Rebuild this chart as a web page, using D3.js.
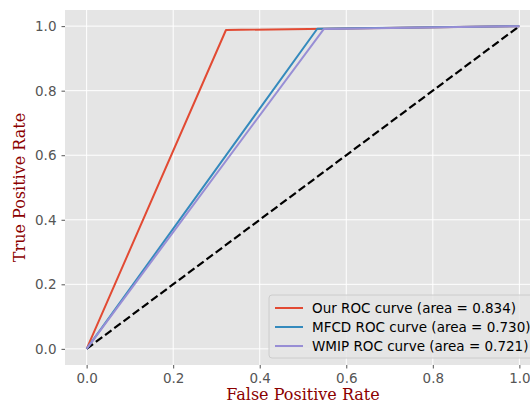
<!DOCTYPE html>
<html>
<head>
<meta charset="utf-8">
<script src="https://cdn.jsdelivr.net/npm/d3@7"></script>
<style>
  body { margin: 0; background: #fff; }
  svg { display: block; }
</style>
</head>
<body>
<div id="chart"></div>
<script>
const seriesNames = ['Our ROC curve (area = 0.834)', 'MFCD ROC curve (area = 0.730)', 'WMIP ROC curve (area = 0.721)'];
const seriesColors = ['#E24A33', '#348ABD', '#988ED5'];
const ourFpr = [0, 0.322, 1];
const ourTpr = [0, 0.988, 1];
const mfcdFpr = [0, 0.533, 1];
const mfcdTpr = [0, 0.992, 1];
const wmipFpr = [0, 0.548, 1];
const wmipTpr = [0, 0.991, 1];
const chanceLine = [0, 1];
const tickValues = [0, 0.2, 0.4, 0.6, 0.8, 1.0];

const W = 530, H = 406;
const space = { top: 10, left: 65, bottom: 365, right: 541 };

const svg = d3.select('#chart').append('svg')
  .attr('width', W)
  .attr('height', H);

const x = d3.scaleLinear().domain([-0.05, 1.05]).range([space.left, space.right]);
const y = d3.scaleLinear().domain([-0.05, 1.05]).range([space.bottom, space.top]);

svg.append('rect')
  .attr('x', space.left).attr('y', space.top)
  .attr('width', space.right - space.left)
  .attr('height', space.bottom - space.top)
  .attr('fill', '#E5E5E5');

// grid
const grid = svg.append('g');
grid.selectAll('.gx').data(tickValues).enter().append('line')
  .attr('x1', d => x(d)).attr('x2', d => x(d))
  .attr('y1', space.top).attr('y2', space.bottom)
  .attr('stroke', '#fff').attr('stroke-width', 1);
grid.selectAll('.gy').data(tickValues).enter().append('line')
  .attr('y1', d => y(d)).attr('y2', d => y(d))
  .attr('x1', space.left).attr('x2', space.right)
  .attr('stroke', '#fff').attr('stroke-width', 1);

// axes
const xAxis = d3.axisBottom(x).tickValues(tickValues).tickFormat(d3.format('.1f')).tickSize(3.5).tickPadding(5);
const yAxis = d3.axisLeft(y).tickValues(tickValues).tickFormat(d3.format('.1f')).tickSize(3.5).tickPadding(5);

const gx = svg.append('g').attr('transform', `translate(0,${space.bottom})`).call(xAxis);
const gy = svg.append('g').attr('transform', `translate(${space.left},0)`).call(yAxis);
[gx, gy].forEach(g => {
  g.select('.domain').remove();
  g.selectAll('.tick line').attr('stroke', '#555');
  g.selectAll('.tick text')
    .attr('fill', '#555')
    .style('font-family', 'DejaVu Sans')
    .style('font-size', '13.5px');
});

// chance line
const line = d3.line().x(d => x(d[0])).y(d => y(d[1]));
svg.append('path')
  .datum(chanceLine.map(d => [d, d]))
  .attr('d', line)
  .attr('fill', 'none')
  .attr('stroke', '#000')
  .attr('stroke-width', 2.2)
  .attr('stroke-dasharray', '8,3.5');

const curves = [
  d3.zip(ourFpr, ourTpr),
  d3.zip(mfcdFpr, mfcdTpr),
  d3.zip(wmipFpr, wmipTpr)
];

svg.selectAll('.roc').data(curves).enter().append('path')
  .attr('d', line)
  .attr('fill', 'none')
  .attr('stroke', (d, i) => seriesColors[i])
  .attr('stroke-width', 2)
  .attr('stroke-linejoin', 'round');

// legend
const legend = svg.append('g').attr('transform', 'translate(269,295)');
legend.append('rect')
  .attr('width', 280).attr('height', 63)
  .attr('rx', 3)
  .attr('fill', '#E5E5E5').attr('fill-opacity', 0.8)
  .attr('stroke', '#ccc').attr('stroke-width', 1);
seriesNames.forEach((name, i) => {
  const row = legend.append('g').attr('transform', `translate(0,${13 + i * 19})`);
  row.append('line')
    .attr('x1', 6).attr('x2', 34)
    .attr('stroke', seriesColors[i]).attr('stroke-width', 2);
  row.append('text')
    .attr('x', 43).attr('dy', '0.35em')
    .attr('fill', '#000')
    .style('font-family', 'DejaVu Sans')
    .style('font-size', '13.5px')
    .text(name);
});

// axis labels
svg.append('text')
  .attr('x', (x(0) + x(1)) / 2).attr('y', 400)
  .attr('text-anchor', 'middle')
  .attr('fill', '#8B0000')
  .style('font-family', 'DejaVu Serif')
  .style('font-size', '16px')
  .text('False Positive Rate');
svg.append('text')
  .attr('transform', `translate(25,${(y(0) + y(1)) / 2}) rotate(-90)`)
  .attr('text-anchor', 'middle')
  .attr('fill', '#8B0000')
  .style('font-family', 'DejaVu Serif')
  .style('font-size', '16px')
  .text('True Positive Rate');
</script>
</body>
</html>
